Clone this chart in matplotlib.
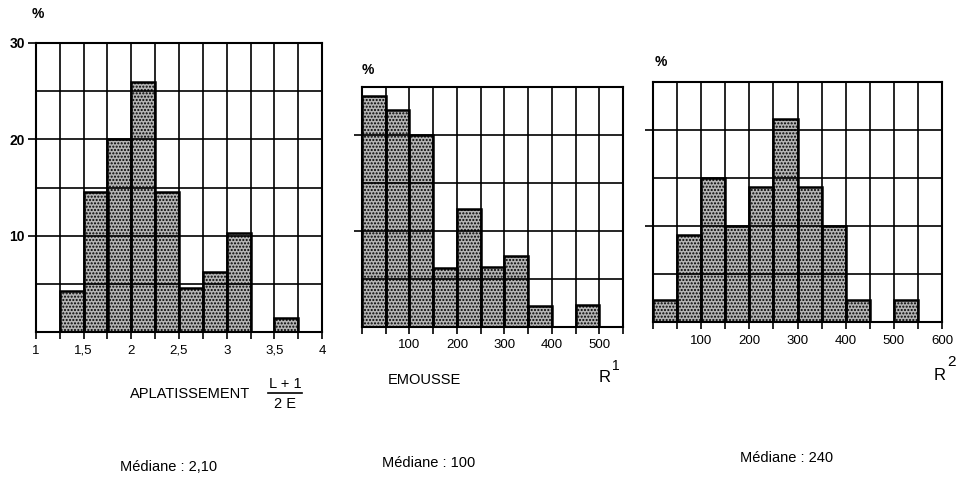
import matplotlib.pyplot as plt
from matplotlib.lines import Line2D
import numpy as np

plt.rcParams['font.family'] = ['Liberation Sans', 'DejaVu Sans']
plt.rcParams['hatch.linewidth'] = 1.0
plt.rcParams['hatch.color'] = 'black'

# aplatissement (L+1)/2E, classes de 0,25
apl_edges = np.arange(1.0, 4.01, 0.25)
apl_pct = [0, 4.3, 14.5, 20.0, 26.0, 14.5, 4.6, 6.2, 10.3, 0, 1.5, 0]
apl_labels = ['1', '', '1,5', '', '2', '', '2,5', '', '3', '', '3,5', '', '4']

# emoussé R1, classes de 50
emo_edges = np.arange(0, 551, 50)
emo_pct = [24.1, 22.6, 20.0, 6.1, 12.3, 6.2, 7.4, 2.2, 0, 2.3, 0]
emo_labels = ['', '', '100', '', '200', '', '300', '', '400', '', '500', '']

# R2, classes de 50
r2_edges = np.arange(0, 601, 50)
r2_pct = [2.3, 9.1, 15.0, 10.0, 14.1, 21.1, 14.1, 10.0, 2.3, 0, 2.3, 0]
r2_labels = ['', '', '100', '', '200', '', '300', '', '400', '', '500', '', '600']

W, H = 969, 482
fig = plt.figure(figsize=(W / 100, H / 100), dpi=100)


def px_axes(x0, y0, x1, y1):
    return fig.add_axes([x0 / W, 1 - y1 / H, (x1 - x0) / W, (y1 - y0) / H])


def histo(ax, edges, pct, labels, ymax, ylabels):
    w = edges[1] - edges[0]
    # trame pointillée puis contour épais des classes
    ax.bar(edges[:-1], pct, width=w, align='edge', facecolor='#b4b4b4',
           edgecolor='black', hatch='.....', linewidth=0, zorder=1)
    ax.bar(edges[:-1], pct, width=w, align='edge', fill=False,
           edgecolor='black', linewidth=1.8, zorder=3)
    ax.set_xlim(edges[0], edges[-1])
    ax.set_ylim(0, ymax)
    ax.set_xticks(edges)
    ax.set_xticklabels(labels, fontsize=9.5)
    ax.set_yticks([10, 20, 30][:ymax // 10])
    ax.set_yticks(np.arange(5, ymax, 10), minor=True)
    if ylabels:
        ax.set_yticklabels([str(v) for v in ax.get_yticks()], fontsize=10,
                           fontweight='bold')
    else:
        ax.set_yticklabels([])
    ax.tick_params(axis='x', direction='out', length=5, width=1.2, pad=4)
    ax.tick_params(axis='y', which='major', direction='out', length=6,
                   width=1.2, pad=2)
    ax.tick_params(axis='y', which='minor', length=0)
    ax.grid(True, which='both', color='black', linewidth=1.2, zorder=2)
    ax.set_axisbelow(False)
    for s in ax.spines.values():
        s.set_linewidth(1.5)


ax1 = px_axes(36, 43, 322, 332)
histo(ax1, apl_edges, apl_pct, apl_labels, 30, True)

ax2 = px_axes(362, 87, 623, 327)
histo(ax2, emo_edges, emo_pct, emo_labels, 25, False)

ax3 = px_axes(653, 82, 942, 322)
histo(ax3, r2_edges, r2_pct, r2_labels, 25, False)


def ftext(x, y, s, **kw):
    fig.text(x / W, 1 - y / H, s, va='center', **kw)


ftext(32, 14, '%', fontsize=10, fontweight='bold')
ftext(362, 70, '%', fontsize=10, fontweight='bold')
ftext(655, 62, '%', fontsize=10, fontweight='bold')

ftext(130, 394, 'APLATISSEMENT', fontsize=10.5)
ftext(285, 384, 'L + 1', fontsize=10.5, ha='center')
fig.add_artist(Line2D([268 / W, 302 / W], [1 - 393 / H, 1 - 393 / H],
                      color='black', linewidth=1.2))
ftext(285, 404, '2 E', fontsize=10.5, ha='center')

ftext(388, 380, 'EMOUSSE', fontsize=10.5)
ftext(599, 378, 'R', fontsize=12)
ftext(612, 366, '1', fontsize=10)
ftext(934, 375, 'R', fontsize=12)
ftext(947, 362, '2', fontsize=11)

ftext(120, 467, 'Médiane : 2,10', fontsize=10.5)
ftext(382, 463, 'Médiane : 100', fontsize=10.5)
ftext(740, 458, 'Médiane : 240', fontsize=10.5)

fig.savefig('out.png', dpi=100)
